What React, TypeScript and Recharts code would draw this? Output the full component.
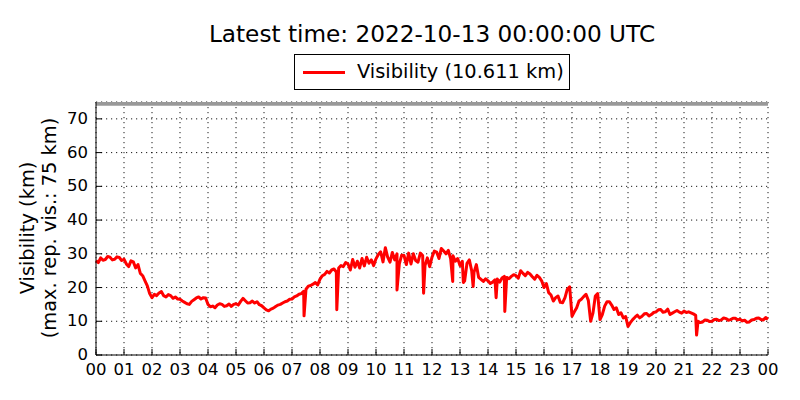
import React from 'react';
import { LineChart, Line, XAxis, YAxis, CartesianGrid, ReferenceArea } from 'recharts';

// visibility in km, one value every 5 minutes from 00:00 to 24:00 (12 per row = 1 hour)
const visibility = [
  28.0, 27.4, 28.8, 28.1, 28.3, 29.2, 29.0, 28.2, 28.4, 29.1, 28.9, 28.0,
  28.4, 27.0, 26.2, 27.9, 27.6, 25.8, 26.8, 24.2, 23.5, 22.0, 20.5, 18.2,
  17.0, 18.0, 17.6, 18.4, 18.8, 17.6, 17.2, 17.9, 17.6, 16.8, 17.2, 16.6,
  16.5, 16.0, 15.6, 15.2, 15.0, 15.9, 16.4, 16.9, 17.2, 16.6, 17.0, 16.9,
  15.0, 14.3, 14.5, 14.0, 14.8, 15.2, 15.0, 14.4, 14.6, 15.1, 14.4, 15.0,
  15.2, 14.8, 15.9, 16.8, 16.1, 15.4, 15.5, 16.0, 15.4, 15.8, 14.9, 14.6,
  14.0, 13.4, 13.1, 13.6, 13.9, 14.4, 14.8, 15.0, 15.4, 15.8, 16.0, 16.5,
  16.6, 17.2, 17.5, 18.0, 18.2, 18.9, 19.5, 20.4, 20.6, 21.0, 21.5, 20.8,
  22.5, 23.5, 23.9, 24.8, 24.3, 25.2, 25.5, 24.6, 25.8, 26.5, 26.2, 27.4,
  27.0, 25.2, 28.3, 26.0, 27.8, 25.8, 28.6, 26.4, 29.0, 27.2, 28.2, 26.5,
  28.5, 29.8, 30.6, 27.6, 31.8, 29.0, 27.5, 30.4, 28.2, 30.0, 27.0, 29.6,
  29.5, 26.8, 30.2, 27.0, 30.0, 28.0, 27.5, 30.2, 29.5, 26.5, 28.8, 26.2,
  29.0, 30.8, 30.5, 28.6, 31.6, 30.8, 30.0, 31.0, 28.5, 29.4, 27.8, 28.6,
  26.5, 27.8, 22.0, 27.2, 28.2, 25.0, 24.5, 26.8, 23.0, 22.4, 21.8, 22.6,
  22.0, 21.2, 21.6, 22.3, 22.5, 21.6, 22.8, 23.3, 23.0, 22.6, 23.3, 23.8,
  23.5, 22.8, 25.0, 24.2, 23.5, 24.5, 24.0, 23.2, 22.5, 23.6, 23.0, 22.0,
  20.0, 21.2, 18.5, 17.8, 16.0, 17.0, 17.5, 15.6, 15.5, 17.0, 19.5, 20.2,
  11.5, 12.8, 14.0, 16.0, 16.5, 17.3, 18.0, 16.2, 10.0, 12.5, 17.5, 18.2,
  10.5, 12.0, 14.5, 15.8, 15.8, 14.8, 13.5, 14.0, 12.0, 12.5, 11.0, 11.4,
  8.5, 9.6, 10.5, 11.2, 11.8, 11.0, 11.5, 12.2, 12.3, 11.6, 12.0, 12.6,
  12.8, 13.4, 13.5, 12.7, 12.8, 13.6, 12.0, 12.4, 12.8, 13.2, 12.7, 12.4,
  13.0, 12.6, 12.8, 12.5, 12.2, 11.8, 10.0, 9.6, 9.8, 10.4, 10.3, 9.9,
  10.0, 10.5, 10.6, 10.2, 10.4, 11.0, 10.8, 10.3, 10.5, 10.9, 10.9, 10.4,
  10.6, 10.1, 10.3, 9.7, 9.8, 10.4, 10.5, 10.9, 11.0, 10.5, 10.4, 11.1,
  10.6,
];

// short drops (hour of day, km)
const spikeHours = [7.43, 8.6, 10.75, 11.7, 12.74, 13.12, 13.47, 14.29, 14.6, 21.45];
const spikeValues = [11.6, 13.4, 19.3, 18.3, 21.8, 21.5, 20.3, 17.0, 12.9, 5.9];

const hourTicks = [0, 1, 2, 3, 4, 5, 6, 7, 8, 9, 10, 11, 12, 13, 14, 15, 16, 17, 18, 19, 20, 21, 22, 23, 24];
const hourLabels = ['00', '01', '02', '03', '04', '05', '06', '07', '08', '09', '10', '11', '12',
  '13', '14', '15', '16', '17', '18', '19', '20', '21', '22', '23', '00'];
const visTicks = [0, 10, 20, 30, 40, 50, 60, 70];
const maxReported = 75;
const latestValue = 10.611;

const data = [
  ...visibility.map((v, i) => ({ t: i / 12, vis: v })),
  ...spikeHours.map((t, i) => ({ t, vis: spikeValues[i] })),
].sort((a, b) => a.t - b.t);

const FONT = 'DejaVu Sans';

const BottomTick = ({ x, y, payload }: any) => (
  <g>
    <line x1={x} x2={x} y1={y} y2={y - 6} stroke="#000" />
    <text x={x} y={y + 20} textAnchor="middle" fontFamily={FONT} fontSize={16.5} fill="#000">
      {hourLabels[hourTicks.indexOf(payload.value)]}
    </text>
  </g>
);

const TopTick = ({ x, y }: any) => <line x1={x} x2={x} y1={y} y2={y + 6} stroke="#000" />;

const LeftTick = ({ x, y, payload }: any) => (
  <g>
    <line x1={x} x2={x + 6} y1={y} y2={y} stroke="#000" />
    <text x={x - 8} y={y + 5} textAnchor="end" fontFamily={FONT} fontSize={16.5} fill="#000">
      {payload.value}
    </text>
  </g>
);

const RightTick = ({ x, y }: any) => <line x1={x} x2={x - 6} y1={y} y2={y} stroke="#000" />;

export default function App() {
  return (
    <div style={{ position: 'absolute', left: 0, top: 0, width: 800, height: 400, background: '#fff', fontFamily: FONT }}>
      <div style={{ position: 'absolute', left: 96, width: 672, top: 20, textAlign: 'center', fontSize: 23.2, lineHeight: '28px' }}>
        Latest time: 2022-10-13 00:00:00 UTC
      </div>
      <div style={{ position: 'absolute', left: 294, top: 54, width: 274, height: 34, border: '1px solid #000', boxSizing: 'content-box' }}>
        <div style={{ position: 'absolute', left: 8, top: 16, width: 42, height: 3, background: '#ff0000' }} />
        <div style={{ position: 'absolute', left: 62, top: 4, fontSize: 19.4, lineHeight: '26px', whiteSpace: 'nowrap' }}>
          Visibility ({latestValue} km)
        </div>
      </div>
      <div style={{ position: 'absolute', left: 39, top: 228, width: 0, height: 0 }}>
        <div style={{ position: 'absolute', transform: 'translate(-50%, -50%) rotate(-90deg)', whiteSpace: 'nowrap', fontSize: 19.4, lineHeight: '22px', textAlign: 'center' }}>
          Visibility (km)<br />(max. rep. vis.: {maxReported} km)
        </div>
      </div>
      <LineChart width={800} height={400} data={data} margin={{ top: 102, right: 32, left: 0, bottom: 0 }}>
        <ReferenceArea xAxisId="b" yAxisId="l" y1={73.9} y2={maxReported} fill="#999" fillOpacity={1} stroke="none" />
        <CartesianGrid xAxisId="b" yAxisId="l" stroke="#000" strokeWidth={0.9} strokeDasharray="1.2 3.8" />
        <XAxis xAxisId="b" dataKey="t" type="number" domain={[0, 24]} ticks={hourTicks} interval={0}
          height={45} tickSize={0} tickMargin={0} tickLine={false} axisLine={{ stroke: '#000' }} tick={<BottomTick />} />
        <XAxis xAxisId="t" orientation="top" dataKey="t" type="number" domain={[0, 24]} ticks={hourTicks} interval={0}
          height={0} tickSize={0} tickMargin={0} tickLine={false} axisLine={{ stroke: '#000' }} tick={<TopTick />} />
        <YAxis yAxisId="l" type="number" domain={[0, maxReported]} ticks={visTicks} interval={0}
          width={96} tickSize={0} tickMargin={0} tickLine={false} axisLine={{ stroke: '#000' }} tick={<LeftTick />} />
        <YAxis yAxisId="r" orientation="right" type="number" domain={[0, maxReported]} ticks={visTicks} interval={0}
          width={0} tickSize={0} tickMargin={0} tickLine={false} axisLine={{ stroke: '#000' }} tick={<RightTick />} />
        <Line xAxisId="b" yAxisId="l" type="linear" dataKey="vis" stroke="#ff0000" strokeWidth={3}
          dot={false} isAnimationActive={false} strokeLinejoin="round" />
      </LineChart>
    </div>
  );
}
